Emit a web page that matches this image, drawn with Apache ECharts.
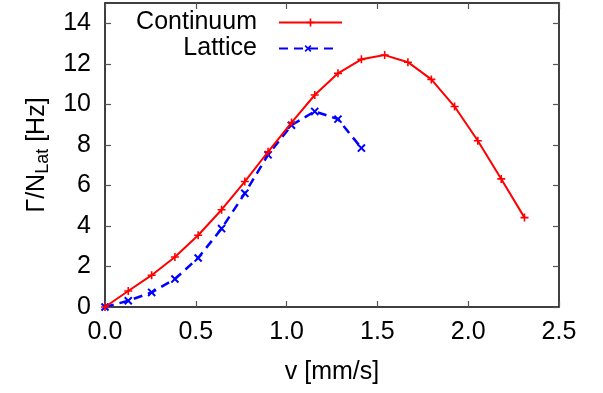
<!DOCTYPE html>
<html><head><meta charset="utf-8">
<script src="https://cdn.jsdelivr.net/npm/echarts@6/dist/echarts.min.js"></script>
<style>html,body{margin:0;padding:0;background:#fff}#c{width:603px;height:393px}</style>
</head><body><div id="c"></div>
<script>
const vValues = [0, 0.128, 0.257, 0.385, 0.513, 0.642, 0.770, 0.898, 1.027, 1.155, 1.283, 1.412, 1.540, 1.668, 1.797, 1.925, 2.053, 2.182, 2.310];
const continuumRate = [0, 0.79, 1.57, 2.47, 3.54, 4.80, 6.19, 7.66, 9.10, 10.46, 11.53, 12.22, 12.43, 12.08, 11.23, 9.89, 8.20, 6.32, 4.41];
const latticeRate = [0, 0.31, 0.72, 1.38, 2.42, 3.87, 5.61, 7.51, 8.97, 9.65, 9.27, 7.84];
const seriesNames = ['Continuum', 'Lattice'];

const FONT = 'Liberation Sans';
const FS = 25;
const plus = 'path://M-1,-5H1V5H-1ZM-5,-1H5V1H-5Z';

const chart = echarts.init(document.getElementById('c'));
const axisLine = {show: true, onZero: false, lineStyle: {color: '#000', width: 1.5}};
const tick = {show: true, inside: true, length: 6, lineStyle: {color: '#555', width: 1.2}};
chart.setOption({
  animation: false,
  backgroundColor: '#fff',
  grid: {left: 105, right: 44, top: 3, bottom: 86},
  textStyle: {fontFamily: FONT},
  legend: [
    {data: [seriesNames[0]], right: 260, top: 10, padding: 0, align: 'right', itemWidth: 63, itemHeight: 10,
     textStyle: {fontFamily: FONT, fontSize: FS, color: '#000', padding: [0, 17, 0, 0]}},
    {data: [seriesNames[1]], right: 265, top: 36, padding: 0, align: 'right', itemWidth: 58, itemHeight: 10,
     textStyle: {fontFamily: FONT, fontSize: FS, color: '#000', padding: [0, 17, 0, 0]}}
  ],
  xAxis: [
    {type: 'value', min: 0, max: 2.5, interval: 0.5, position: 'bottom',
     axisLine, axisTick: tick, splitLine: {show: false},
     axisLabel: {fontFamily: FONT, fontSize: FS, color: '#000', margin: 13, formatter: v => v.toFixed(1)},
     name: 'v [mm/s]', nameLocation: 'middle', nameGap: 53,
     nameTextStyle: {fontFamily: FONT, fontSize: FS, color: '#000'}},
    {type: 'value', min: 0, max: 2.5, interval: 0.5, position: 'top',
     axisLine, axisTick: tick, splitLine: {show: false}, axisLabel: {show: false}}
  ],
  yAxis: [
    {type: 'value', min: 0, max: 15, interval: 2, position: 'left',
     axisLine, axisTick: tick, splitLine: {show: false},
     axisLabel: {fontFamily: FONT, fontSize: FS, color: '#000', margin: 14, showMaxLabel: false,
       formatter: v => (v <= 14 ? String(v) : '')},
     name: '{a|Γ/N}{b|Lat}{a| [Hz]}', nameLocation: 'middle', nameGap: 45, nameRotate: 90,
     nameTextStyle: {rich: {
       a: {fontFamily: FONT, fontSize: FS, color: '#000'},
       b: {fontFamily: FONT, fontSize: 18, color: '#000', padding: [12, 0, 0, 0]}
     }}},
    {type: 'value', min: 0, max: 15, interval: 2, position: 'right',
     axisLine, axisTick: tick, splitLine: {show: false}, axisLabel: {show: false}}
  ],
  series: [
    {name: seriesNames[0], type: 'line', data: vValues.map((v, i) => [v, continuumRate[i]]),
     symbol: plus, symbolSize: 8, showSymbol: true,
     itemStyle: {color: '#ff0000'}, lineStyle: {color: '#ff0000', width: 2}, z: 3},
    {name: seriesNames[1], type: 'line', data: latticeRate.map((r, i) => [vValues[i], r]),
     symbol: plus, symbolSize: 10, symbolRotate: 45, showSymbol: true,
     itemStyle: {color: '#0000ff'}, lineStyle: {color: '#0000ff', width: 2.5, type: [9, 6]}, z: 2}
  ]
});
</script></body></html>
